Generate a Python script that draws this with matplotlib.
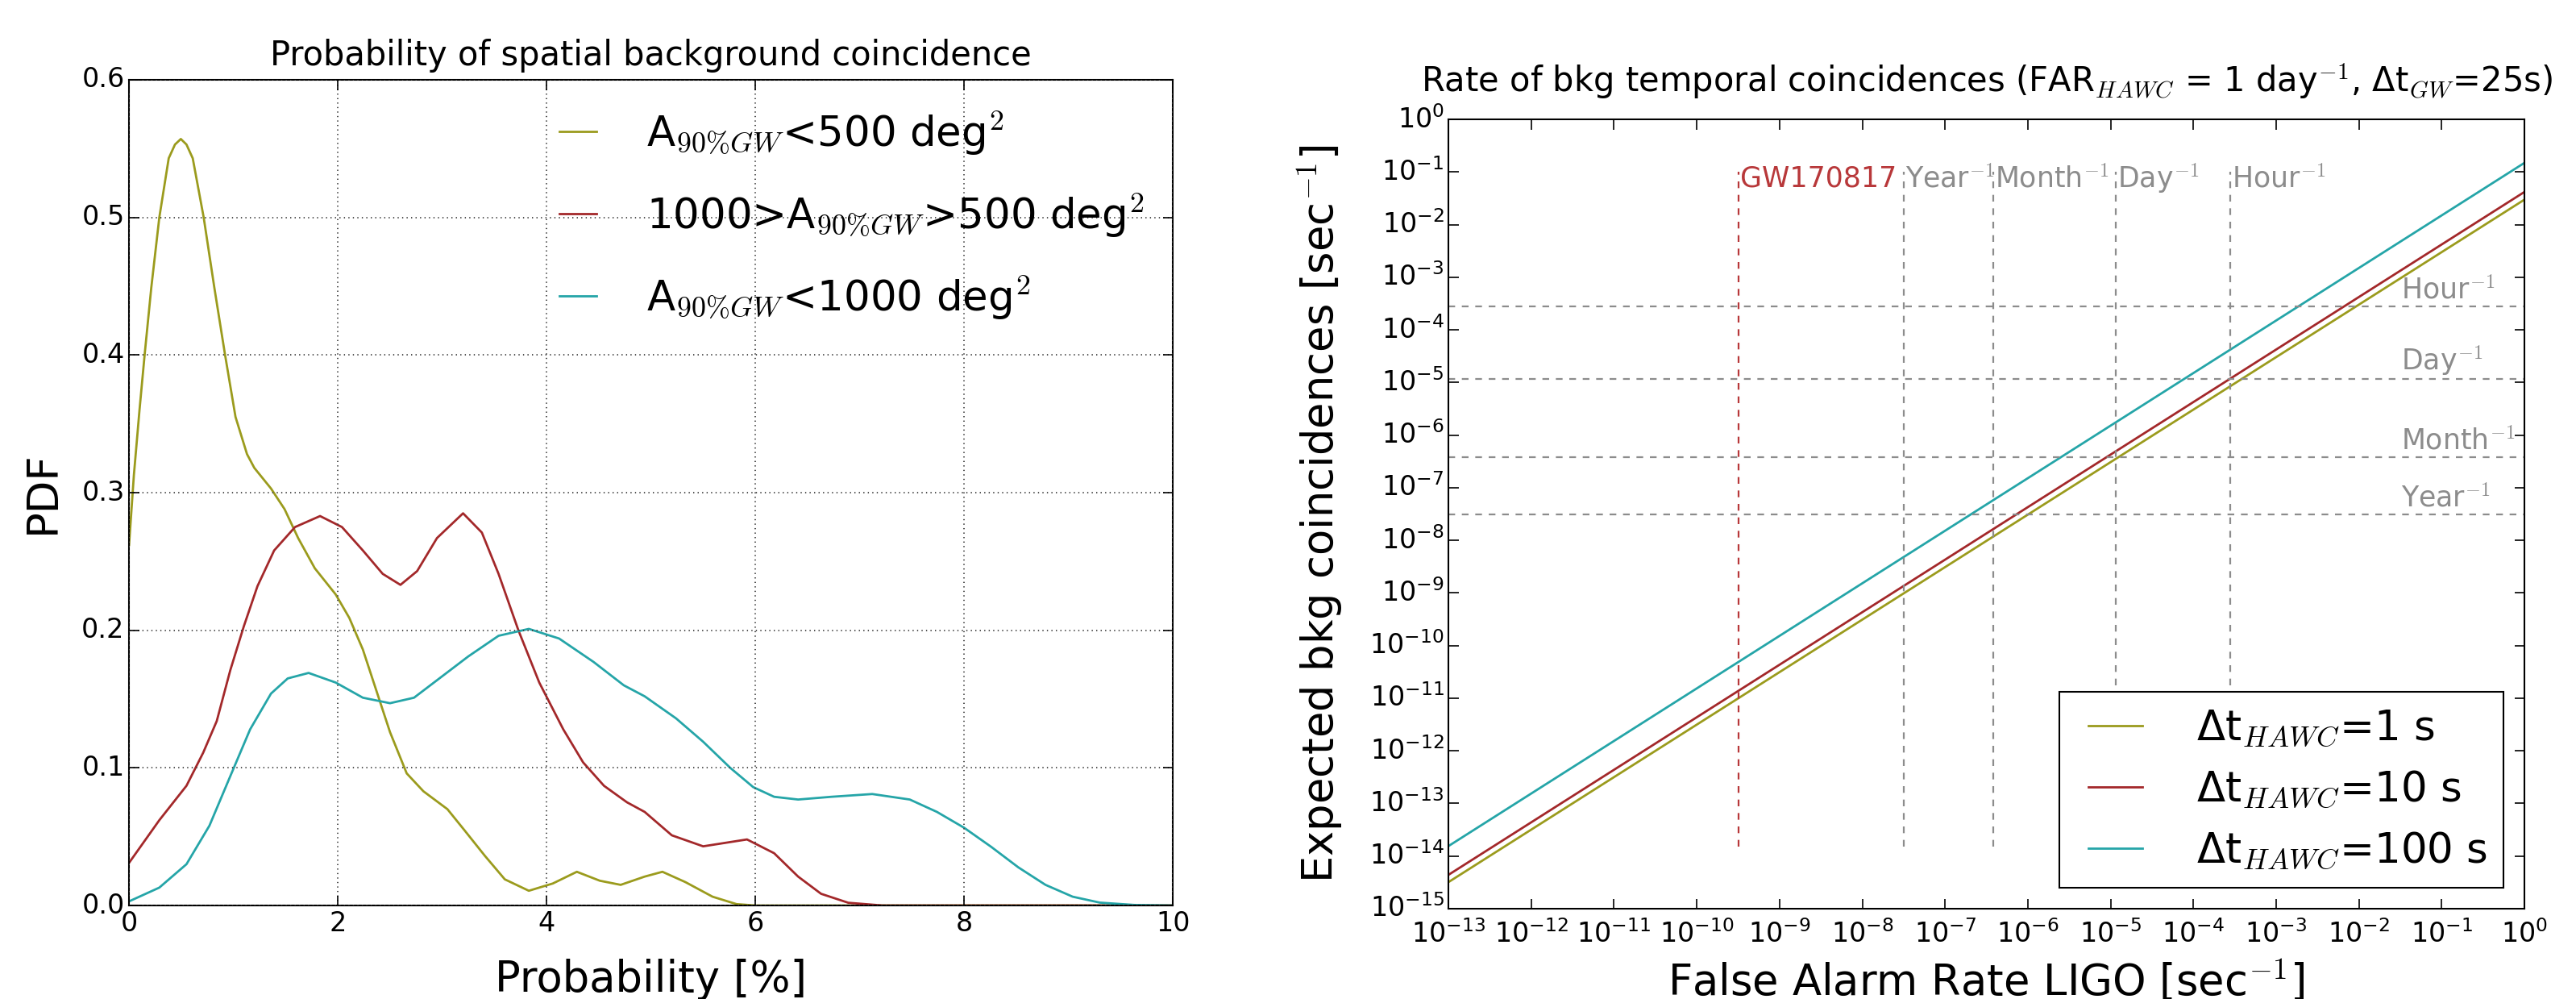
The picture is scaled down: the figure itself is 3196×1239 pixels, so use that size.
"""Two-panel figure: spatial background PDF (left) and temporal coincidence rate (right)."""

import matplotlib
matplotlib.use("Agg")
import matplotlib.pyplot as plt

plt.style.use("classic")
plt.rcParams["mathtext.fontset"] = "cm"
plt.rcParams["font.family"] = ["DejaVu Sans"]

# ---- left panel: PDFs ------------------------------------------------------
x_small = [0.0, 0.046, 0.10, 0.149, 0.213, 0.29, 0.38, 0.44, 0.496, 0.55, 0.61,
           0.715, 0.817, 0.92, 1.02, 1.13, 1.20, 1.36, 1.49, 1.62, 1.78, 1.98,
           2.11, 2.24, 2.37, 2.50, 2.66, 2.82, 3.05, 3.21, 3.41, 3.60, 3.83,
           4.06, 4.29, 4.51, 4.71, 4.94, 5.11, 5.33, 5.59, 5.82, 6.0, 10.0]
y_small = [0.262, 0.3125, 0.36, 0.40, 0.449, 0.50, 0.543, 0.553, 0.557, 0.553, 0.543,
           0.50, 0.449, 0.40, 0.355, 0.328, 0.318, 0.303, 0.288, 0.267, 0.245, 0.226,
           0.209, 0.186, 0.156, 0.126, 0.096, 0.083, 0.070, 0.055, 0.036, 0.019, 0.0107,
           0.016, 0.0245, 0.018, 0.015, 0.021, 0.0245, 0.017, 0.0064, 0.001, 0.0, 0.0]

x_mid = [0.0, 0.29, 0.55, 0.71, 0.84, 0.97, 1.10, 1.23, 1.39, 1.59, 1.83, 2.04,
         2.24, 2.43, 2.60, 2.76, 2.95, 3.20, 3.38, 3.54, 3.73, 3.93, 4.16, 4.35,
         4.55, 4.77, 4.94, 5.20, 5.50, 5.92, 6.18, 6.41, 6.63, 6.89, 7.22, 10.0]
y_mid = [0.031, 0.062, 0.087, 0.111, 0.134, 0.171, 0.203, 0.232, 0.258, 0.275, 0.283, 0.275,
         0.258, 0.241, 0.233, 0.243, 0.267, 0.285, 0.271, 0.241, 0.200, 0.162, 0.128, 0.104,
         0.087, 0.075, 0.068, 0.051, 0.043, 0.048, 0.038, 0.021, 0.0085, 0.002, 0.0, 0.0]

x_large = [0.0, 0.29, 0.55, 0.77, 0.97, 1.16, 1.36, 1.52, 1.72, 1.98, 2.24, 2.50,
           2.73, 2.99, 3.25, 3.54, 3.83, 4.12, 4.45, 4.74, 4.94, 5.24, 5.50, 5.76,
           5.98, 6.18, 6.41, 6.73, 7.12, 7.48, 7.74, 8.00, 8.26, 8.52, 8.78, 9.04,
           9.30, 9.63, 10.0]
y_large = [0.003, 0.013, 0.030, 0.058, 0.094, 0.128, 0.154, 0.165, 0.169, 0.162, 0.151, 0.147,
           0.151, 0.166, 0.181, 0.196, 0.201, 0.194, 0.177, 0.160, 0.152, 0.136, 0.119, 0.100,
           0.086, 0.079, 0.077, 0.079, 0.081, 0.077, 0.068, 0.0565, 0.0426, 0.0277, 0.015, 0.0064,
           0.0021, 0.0004, 0.0]

pdf_labels = [r"A$_{90\%GW}$<500 deg$^2$",
              r"1000>A$_{90\%GW}$>500 deg$^2$",
              r"A$_{90\%GW}$<1000 deg$^2$"]

far_ligo = [1e-13, 1e0]
rate_1s = [3.2e-15, 3.0e-2]
rate_10s = [4.4e-15, 4.2e-2]
rate_100s = [1.55e-14, 1.5e-1]
rate_labels = [r"Δt$_{HAWC}$=1 s", r"Δt$_{HAWC}$=10 s", r"Δt$_{HAWC}$=100 s"]

# vertical markers (LIGO FAR) and horizontal markers (coincidence rate)
gw_far = 3.17e-10
vmark_x = [3.17e-8, 3.8e-7, 1.157e-5, 2.78e-4]
vmark_txt = [r"Year$^{-1}$", r"Month$^{-1}$", r"Day$^{-1}$", r"Hour$^{-1}$"]
hmark_y = [2.78e-4, 1.157e-5, 3.8e-7, 3.17e-8]
hmark_txt = [r"Hour$^{-1}$", r"Day$^{-1}$", r"Month$^{-1}$", r"Year$^{-1}$"]

OLIVE = "#9b9b1d"
RED = "#a3282a"
GW_RED = "#b8383a"
TEAL = "#25a5a8"
GREY = "#8c8c8c"

fig = plt.figure(figsize=(31.96, 12.39), dpi=100)
fig.patch.set_facecolor("white")

# left -------------------------------------------------------------------------
ax1 = fig.add_axes([0.0501, 0.0936, 0.4052, 0.8265])
ax1.plot(x_small, y_small, color=OLIVE, lw=2, label=pdf_labels[0])
ax1.plot(x_mid, y_mid, color=RED, lw=2, label=pdf_labels[1])
ax1.plot(x_large, y_large, color=TEAL, lw=2, label=pdf_labels[2])
ax1.set_xlim(0, 10)
ax1.set_ylim(0, 0.6)
ax1.set_xticks([0, 2, 4, 6, 8, 10])
ax1.set_yticks([0.0, 0.1, 0.2, 0.3, 0.4, 0.5, 0.6])
ax1.grid(True, linestyle=":", color="0.25", lw=1.3)
ax1.tick_params(labelsize=24, length=9, width=1.2)
ax1.set_xlabel("Probability [%]", fontsize=38, labelpad=20)
ax1.set_ylabel("PDF", fontsize=38, labelpad=16)
ax1.set_title("Probability of spatial background coincidence", fontsize=30, pad=13)
ax1.legend(loc="upper right", frameon=False, fontsize=37, handlelength=1.5,
           handletextpad=0.9, labelspacing=0.85, borderaxespad=0.3)
for s in ax1.spines.values():
    s.set_linewidth(1.5)

# right ------------------------------------------------------------------------
ax2 = fig.add_axes([0.5623, 0.0904, 0.4177, 0.790])
ax2.set_xscale("log")
ax2.set_yscale("log")
ax2.plot(far_ligo, rate_1s, color=OLIVE, lw=2, label=rate_labels[0])
ax2.plot(far_ligo, rate_10s, color=RED, lw=2, label=rate_labels[1])
ax2.plot(far_ligo, rate_100s, color=TEAL, lw=2, label=rate_labels[2])

ax2.vlines(gw_far, 1.5e-14, 1e-1, colors=GW_RED, linestyles="--", lw=1.6)
ax2.text(gw_far * 1.05, 7.5e-2, "GW170817", color=GW_RED, fontsize=25,
         ha="left", va="center")
for xv, txt in zip(vmark_x, vmark_txt):
    ax2.vlines(xv, 1.5e-14, 1e-1, colors=GREY, linestyles="--", lw=1.6)
    ax2.text(xv * 1.05, 7.5e-2, txt, color=GREY, fontsize=25,
             ha="left", va="center")
for yv, txt in zip(hmark_y, hmark_txt):
    ax2.axhline(yv, color=GREY, ls="--", lw=1.6)
    ax2.text(3.2e-2, yv * 1.1, txt, color=GREY, fontsize=25,
             ha="left", va="bottom")

ax2.set_xlim(1e-13, 1e0)
ax2.set_ylim(1e-15, 1e0)
ax2.set_xticks([10.0 ** k for k in range(-13, 1)])
ax2.set_yticks([10.0 ** k for k in range(-15, 1)])
ax2.minorticks_off()
ax2.tick_params(labelsize=24, length=9, width=1.2)
ax2.tick_params(axis="x", pad=10)
ax2.set_xlabel(r"False Alarm Rate LIGO [sec$^{-1}$]", fontsize=38, labelpad=10)
ax2.set_ylabel(r"Expected bkg coincidences [sec$^{-1}$]", fontsize=38, labelpad=22)
ax2.set_title(r"Rate of bkg temporal coincidences (FAR$_{HAWC}$ = 1 day$^{-1}$, "
              r"Δt$_{GW}$=25s)", fontsize=30, pad=24)
leg = ax2.legend(loc="lower right", fontsize=37, handlelength=1.9,
                 handletextpad=1.0, labelspacing=0.5, borderaxespad=0.5)
leg.get_frame().set_linewidth(1.5)
for s in ax2.spines.values():
    s.set_linewidth(1.5)

fig.savefig("out.png", dpi=100)
